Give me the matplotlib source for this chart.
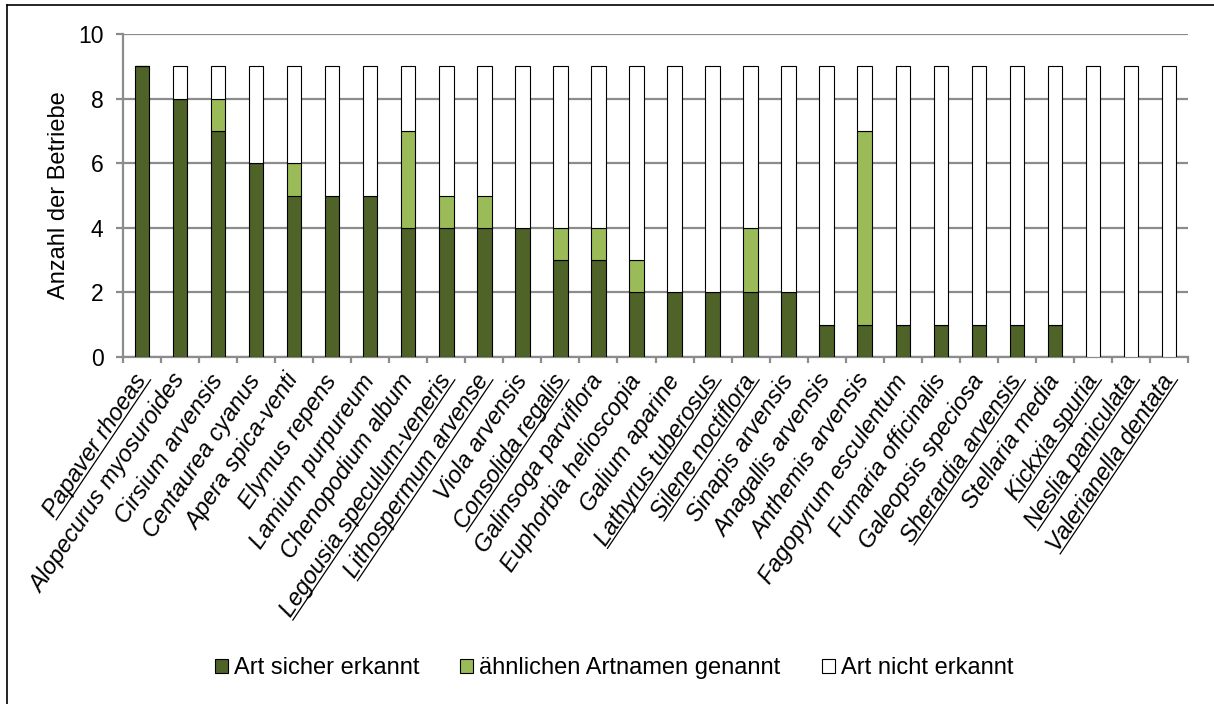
import matplotlib
matplotlib.use('Agg')
import matplotlib.pyplot as plt
import numpy as np
from matplotlib.patches import Patch
from matplotlib.lines import Line2D
from matplotlib.transforms import IdentityTransform

categories = ["Papaver rhoeas", "Alopecurus myosuroides", "Cirsium arvensis",
              "Centaurea cyanus", "Apera spica-venti", "Elymus repens",
              "Lamium purpureum", "Chenopodium album", "Legousia speculum-veneris",
              "Lithospermum arvense", "Viola arvensis", "Consolida regalis",
              "Galinsoga parviflora", "Euphorbia helioscopia", "Galium aparine",
              "Lathyrus tuberosus", "Silene noctiflora", "Sinapis arvensis",
              "Anagallis arvensis", "Anthemis arvensis", "Fagopyrum esculentum",
              "Fumaria officinalis", "Galeopsis speciosa", "Sherardia arvensis",
              "Stellaria media", "Kickxia spuria", "Neslia paniculata",
              "Valerianella dentata"]
underlined = ["Papaver rhoeas", "Legousia speculum-veneris", "Lithospermum arvense",
              "Consolida regalis", "Lathyrus tuberosus", "Silene noctiflora",
              "Sherardia arvensis", "Kickxia spuria", "Neslia paniculata",
              "Valerianella dentata"]
sicher   = [9, 8, 7, 6, 5, 5, 5, 4, 4, 4, 4, 3, 3, 2, 2, 2, 2, 2, 1, 1, 1, 1, 1, 1, 1, 0, 0, 0]
aehnlich = [0, 0, 1, 0, 1, 0, 0, 3, 1, 1, 0, 1, 1, 1, 0, 0, 2, 0, 0, 6, 0, 0, 0, 0, 0, 0, 0, 0]
nicht    = [0, 1, 1, 3, 3, 4, 4, 2, 4, 4, 5, 5, 5, 6, 7, 7, 5, 7, 8, 2, 8, 8, 8, 8, 8, 9, 9, 9]
series_names = ["Art sicher erkannt", "ähnlichen Artnamen genannt", "Art nicht erkannt"]
yticks = [0, 2, 4, 6, 8, 10]
ylabel = "Anzahl der Betriebe"

plt.rcParams['font.family'] = ['Liberation Sans', 'DejaVu Sans']

W, H = 1214, 704
fig = plt.figure(figsize=(W / 100, H / 100), dpi=100)
ax = fig.add_axes([123 / W, 1 - 357 / H, (1188 - 123) / W, (357 - 34) / H])

c_dark, c_light, c_white = '#4F6228', '#9BBB59', '#FFFFFF'
grid_c = '#8C8C8C'
x = np.arange(len(categories))
s = np.array(sicher)
a = np.array(aehnlich)
n = np.array(nicht)
bw = 0.38
ax.bar(x, s, width=bw, color=c_dark, edgecolor='black', linewidth=0.8, zorder=3)
ax.bar(x, a, width=bw, bottom=s, color=c_light, edgecolor='black', linewidth=0.8, zorder=3)
ax.bar(x, n, width=bw, bottom=s + a, color=c_white, edgecolor='black', linewidth=0.8, zorder=3)

ax.set_xlim(-0.5, len(categories) - 0.5)
ax.set_ylim(0, 10)
ax.set_yticks(yticks)
ax.yaxis.grid(True, color=grid_c, linewidth=1.6)
ax.set_axisbelow(True)
for sp in ['top', 'right']:
    ax.spines[sp].set_visible(False)
for sp in ['left', 'bottom']:
    ax.spines[sp].set_color(grid_c)
    ax.spines[sp].set_linewidth(1.6)
ax.tick_params(axis='y', length=5, width=1.6, color=grid_c, labelsize=16.5, pad=9)

ax.set_xticks(x)
ax.set_xticklabels(categories, rotation=56, ha='right', va='center',
                   rotation_mode='anchor', fontstyle='italic', fontsize=17)
ax.set_xticks(np.arange(len(categories) + 1) - 0.5, minor=True)
ax.tick_params(axis='x', which='major', length=0, pad=14)
ax.tick_params(axis='x', which='minor', length=4.5, width=1.6, color=grid_c)

ax.set_ylabel(ylabel, fontsize=17, labelpad=6)

handles = [Patch(facecolor=c, edgecolor='black', linewidth=0.8) for c in (c_dark, c_light, c_white)]
fig.legend(handles, series_names, loc='center', bbox_to_anchor=(614 / W, 1 - 668 / H),
           ncol=3, frameon=False, fontsize=17, handlelength=0.55, handleheight=0.55,
           handletextpad=0.25, columnspacing=1.75)

# outer frame
fig.add_artist(Line2D([7 / W, 7 / W], [0, 1 - 5 / H], transform=fig.transFigure, color='black', lw=1.2))
fig.add_artist(Line2D([7 / W, 1], [1 - 5 / H, 1 - 5 / H], transform=fig.transFigure, color='black', lw=1.2))

# underlines for selected labels
fig.canvas.draw()
renderer = fig.canvas.get_renderer()
for lab in ax.get_xticklabels():
    t = lab.get_text()
    if t not in underlined:
        continue
    fp = lab.get_fontproperties()
    w, h, d = renderer.get_text_width_height_descent(t, fp, ismath=False)
    _, lh, ld = renderer.get_text_width_height_descent("lp", fp, ismath=False)
    Hb, Db = max(h, lh), max(d, ld)
    yb = -Hb / 2 + Db - 2.5
    ax0, ay0 = lab.get_transform().transform(lab.get_position())
    th = np.deg2rad(lab.get_rotation())
    pts = []
    for lx in (-w, 2.0):
        px = ax0 + lx * np.cos(th) - yb * np.sin(th)
        py = ay0 + lx * np.sin(th) + yb * np.cos(th)
        pts.append((px, py))
    fig.add_artist(Line2D([pts[0][0], pts[1][0]], [pts[0][1], pts[1][1]],
                          transform=IdentityTransform(), color='black', lw=0.9))

fig.savefig('out.png', dpi=100)
